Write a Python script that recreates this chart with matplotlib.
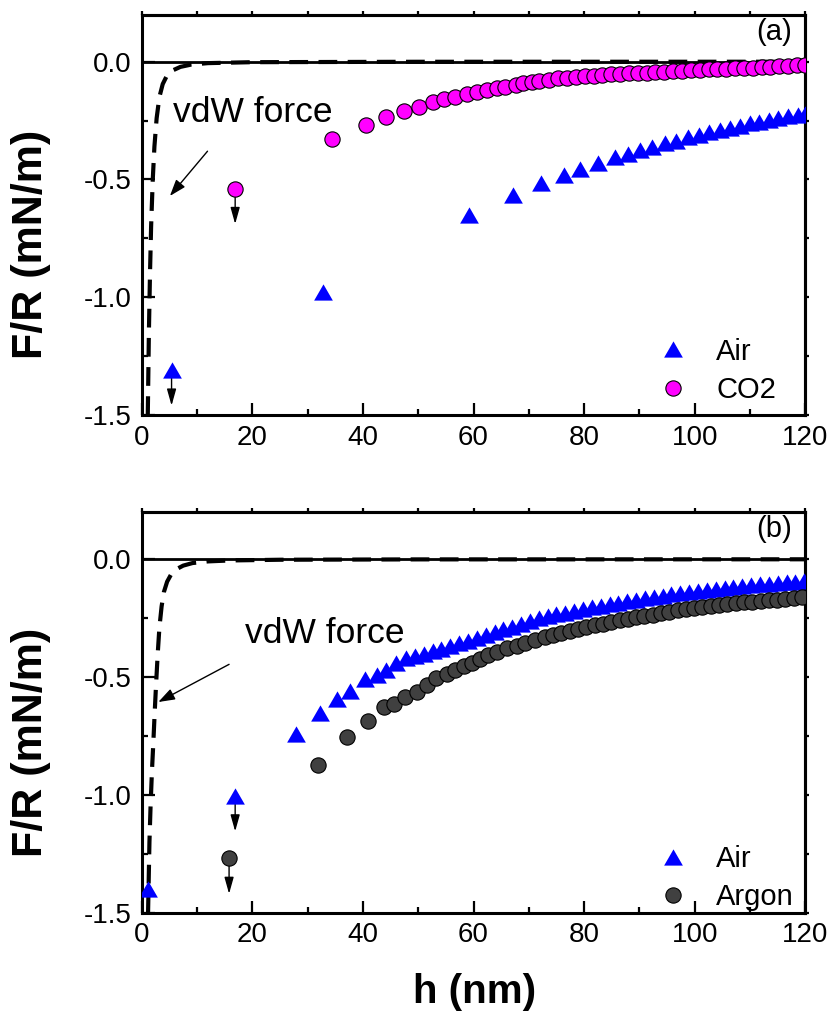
import matplotlib
matplotlib.use("Agg")
import matplotlib.pyplot as plt
from matplotlib.ticker import MultipleLocator, FormatStrFormatter

# ---------------- data ----------------
# panel (a): air vs CO2
air_a_h = [5.4, 32.7, 59.2, 67.1, 72.2, 76.3, 79.3, 82.5, 85.6, 87.9, 90.1, 92.3,
           94.6, 96.7, 98.8, 100.7, 102.6, 104.6, 106.4, 108.2, 110.0, 111.7,
           113.4, 115.1, 116.9, 118.6, 120.0]
air_a_f = [-1.31, -0.977, -0.651, -0.568, -0.515, -0.480, -0.456, -0.431, -0.406,
           -0.391, -0.375, -0.361, -0.346, -0.335, -0.321, -0.311, -0.300, -0.290,
           -0.280, -0.271, -0.262, -0.255, -0.247, -0.240, -0.231, -0.226, -0.220]

co2_h = [16.9, 34.5, 40.5, 44.2, 47.4, 50.2, 52.7, 54.7, 56.7, 58.9, 60.7, 62.4,
         64.3, 65.7, 67.7, 69.0, 70.5, 71.9, 73.7, 75.3, 76.9, 78.5, 80.1, 81.7,
         83.3, 84.9, 86.5, 88.1, 89.7, 91.3, 92.9, 94.5, 96.1, 97.7, 99.3, 100.9,
         102.5, 104.1, 105.7, 107.3, 108.9, 110.5, 112.1, 113.7, 115.3, 116.9,
         118.5, 120.0]
co2_f = [-0.539, -0.329, -0.267, -0.236, -0.209, -0.191, -0.171, -0.160, -0.148,
         -0.136, -0.127, -0.120, -0.112, -0.106, -0.098, -0.092, -0.088, -0.083,
         -0.076, -0.071, -0.068, -0.065, -0.062, -0.059, -0.057, -0.054, -0.052,
         -0.050, -0.048, -0.046, -0.044, -0.042, -0.040, -0.038, -0.036, -0.035,
         -0.033, -0.031, -0.030, -0.028, -0.026, -0.025, -0.023, -0.022, -0.020,
         -0.018, -0.016, -0.014]

vdw_a_h = [1.1, 1.3, 1.5, 1.7, 2.0, 2.3, 2.7, 3.2, 3.8, 4.5, 5.5, 7.0, 9.0, 12.0,
           20.0, 50.0, 120.0]
vdw_a_f = [-1.50, -1.15, -0.90, -0.70, -0.50, -0.36, -0.24, -0.15, -0.095, -0.062,
           -0.038, -0.022, -0.012, -0.006, -0.002, -0.0003, -0.0001]

# panel (b): air vs argon
air_b_h = [1.2, 16.9, 27.9, 32.2, 35.4, 37.7, 40.4, 42.5, 44.2, 46.0, 47.8, 49.4,
           51.0, 52.6, 54.2, 55.8, 57.4, 59.0, 60.6, 62.2, 63.8, 65.4, 67.0, 68.6,
           70.2, 71.8, 73.4, 75.0, 76.6, 78.2, 79.8, 81.4, 83.0, 84.6, 86.2, 87.8,
           89.4, 91.0, 92.6, 94.2, 95.8, 97.4, 99.0, 100.6, 102.2, 103.8, 105.4,
           107.0, 108.6, 110.2, 111.8, 113.4, 115.0, 116.6, 118.2, 119.8]
air_b_f = [-1.40, -1.005, -0.742, -0.654, -0.594, -0.558, -0.508, -0.490, -0.468,
           -0.442, -0.421, -0.410, -0.400, -0.390, -0.379, -0.368, -0.357, -0.346,
           -0.334, -0.320, -0.309, -0.298, -0.286, -0.274, -0.263, -0.251, -0.242,
           -0.234, -0.226, -0.218, -0.211, -0.204, -0.197, -0.190, -0.184, -0.178,
           -0.172, -0.166, -0.160, -0.154, -0.148, -0.143, -0.138, -0.133, -0.129,
           -0.125, -0.121, -0.117, -0.113, -0.110, -0.107, -0.104, -0.101, -0.098,
           -0.095, -0.092]

argon_h = [15.8, 31.8, 37.2, 41.0, 43.8, 45.6, 47.6, 49.7, 51.5, 53.3, 55.2, 56.7,
           58.2, 59.7, 61.2, 62.7, 64.2, 66.0, 67.8, 69.3, 71.1, 72.9, 74.4, 75.9,
           77.4, 78.9, 80.4, 81.9, 83.4, 84.9, 86.4, 87.9, 89.4, 90.9, 92.4, 93.9,
           95.4, 96.9, 98.4, 99.9, 101.4, 102.9, 104.4, 105.9, 107.4, 108.9, 110.4,
           111.9, 113.4, 114.9, 116.4, 117.9, 119.4]
argon_f = [-1.27, -0.873, -0.756, -0.686, -0.626, -0.614, -0.586, -0.562, -0.534,
           -0.505, -0.487, -0.470, -0.453, -0.439, -0.422, -0.406, -0.392, -0.378,
           -0.368, -0.354, -0.343, -0.331, -0.323, -0.314, -0.305, -0.297, -0.289,
           -0.281, -0.273, -0.265, -0.259, -0.253, -0.247, -0.241, -0.235, -0.229,
           -0.223, -0.217, -0.212, -0.208, -0.203, -0.199, -0.195, -0.191, -0.187,
           -0.183, -0.180, -0.177, -0.174, -0.171, -0.168, -0.165, -0.162]

vdw_b_h = [1.15, 1.25, 1.4, 1.6, 1.85, 2.1, 2.35, 2.6, 2.9, 3.2, 3.6, 4.0, 4.6,
           5.3, 6.2, 7.5, 9.2, 12.0, 16.0, 25.0, 50.0, 120.0]
vdw_b_f = [-1.50, -1.38, -1.20, -1.05, -0.90, -0.78, -0.65, -0.53, -0.40, -0.29,
           -0.20, -0.14, -0.095, -0.065, -0.043, -0.027, -0.016, -0.009, -0.005,
           -0.002, -0.0005, -0.0001]

x_ticks = [0, 20, 40, 60, 80, 100, 120]
y_ticks = [-1.5, -1.0, -0.5, 0.0]

# ---------------- style ----------------
plt.rcParams['font.family'] = ['Liberation Sans', 'DejaVu Sans']
plt.rcParams['axes.unicode_minus'] = False

TICK_SIZE = 20
BLUE = '#0000ff'
MAGENTA = '#ff00ff'
GREY = '#404040'
ARROW_LEN = 0.15
TRI = [(0.0, 0.866), (-1.0, -0.866), (1.0, -0.866), (0.0, 0.866)]

fig = plt.figure(figsize=(8.36, 10.28), dpi=100)
ax_a = fig.add_axes([0.1695, 0.5963, 0.7938, 0.3895])
ax_b = fig.add_axes([0.1695, 0.1122, 0.7938, 0.3896])


def style_axes(ax):
    ax.set_xlim(0, 120)
    ax.set_ylim(-1.5, 0.2)
    ax.set_xticks(x_ticks)
    ax.set_yticks(y_ticks)
    ax.xaxis.set_minor_locator(MultipleLocator(10))
    ax.yaxis.set_minor_locator(MultipleLocator(0.25))
    ax.yaxis.set_major_formatter(FormatStrFormatter('%.1f'))
    for s in ax.spines.values():
        s.set_linewidth(2.2)
    ax.tick_params(which='major', direction='in', length=9, width=1.6, pad=7,
                   labelsize=TICK_SIZE)
    ax.tick_params(which='minor', direction='in', length=4, width=1.6)
    sx = ax.secondary_xaxis('top')
    sx.set_xticks(x_ticks)
    sx.xaxis.set_minor_locator(MultipleLocator(10))
    sx.tick_params(which='both', direction='out', length=3, width=1.6, labeltop=False)
    sx.spines['top'].set_linewidth(2.2)
    sy = ax.secondary_yaxis('right')
    sy.set_yticks(y_ticks)
    sy.yaxis.set_minor_locator(MultipleLocator(0.25))
    sy.tick_params(which='both', direction='out', length=3, width=1.6, labelright=False)
    sy.spines['right'].set_linewidth(2.2)
    ax.axhline(0, color='k', lw=2.0, zorder=1)
    ax.set_ylabel('F/R (mN/m)', fontsize=31, fontweight='bold')
    ax.yaxis.set_label_coords(-0.136, 0.425)


def down_arrow(ax, h, f):
    ax.annotate('', xy=(h, f - ARROW_LEN), xytext=(h, f),
                arrowprops=dict(arrowstyle='-|>,head_length=1.0,head_width=0.28',
                                color='k', lw=1.0, shrinkA=0, shrinkB=0,
                                mutation_scale=10), zorder=2)


def vdw_label(ax, xy_tip, xy_text, text_xy):
    ax.annotate('', xy=xy_tip, xytext=xy_text,
                arrowprops=dict(arrowstyle='-|>,head_length=1.0,head_width=0.35',
                                color='k', lw=1.0, shrinkA=0, shrinkB=0,
                                mutation_scale=10))
    ax.text(text_xy[0], text_xy[1], 'vdW force', fontsize=25.5, ha='left',
            va='baseline')


# ---------------- panel (a) ----------------
style_axes(ax_a)
ax_a.plot(vdw_a_h, vdw_a_f, color='k', lw=3, dashes=(4.5, 2.5), zorder=2)
la1, = ax_a.plot(air_a_h, air_a_f, ls='none', marker=TRI, ms=13.5, mfc=BLUE,
                 mec=BLUE, mew=0, zorder=3, label='Air')
la2, = ax_a.plot(co2_h, co2_f, ls='none', marker='o', ms=11, mfc=MAGENTA,
                 mec='k', mew=0.8, zorder=3, label='CO2')
down_arrow(ax_a, air_a_h[0], air_a_f[0])
down_arrow(ax_a, co2_h[0], co2_f[0])
vdw_label(ax_a, (5.1, -0.57), (11.9, -0.38), (5.6, -0.255))
ax_a.text(0.980, 0.957, '(a)', transform=ax_a.transAxes, ha='right',
          va='center', fontsize=21)
ax_a.legend(handles=[la1, la2], loc='lower left', bbox_to_anchor=(0.778, 0.027),
            frameon=False, fontsize=21, handlelength=1.0, handletextpad=1.0,
            borderpad=0, borderaxespad=0, labelspacing=0.36)

# ---------------- panel (b) ----------------
style_axes(ax_b)
ax_b.plot(vdw_b_h, vdw_b_f, color='k', lw=3, dashes=(4.5, 2.5), zorder=2)
lb1, = ax_b.plot(air_b_h, air_b_f, ls='none', marker=TRI, ms=13.5, mfc=BLUE,
                 mec=BLUE, mew=0, zorder=3, label='Air')
lb2, = ax_b.plot(argon_h, argon_f, ls='none', marker='o', ms=11, mfc=GREY,
                 mec='k', mew=0.8, zorder=3, label='Argon')
down_arrow(ax_b, air_b_h[1], air_b_f[1])
down_arrow(ax_b, argon_h[0], argon_f[0])
vdw_label(ax_b, (3.0, -0.606), (15.8, -0.446), (18.7, -0.357))
ax_b.text(0.980, 0.957, '(b)', transform=ax_b.transAxes, ha='right',
          va='center', fontsize=21)
ax_b.legend(handles=[lb1, lb2], loc='lower left', bbox_to_anchor=(0.778, 0.003),
            frameon=False, fontsize=21, handlelength=1.0, handletextpad=1.0,
            borderpad=0, borderaxespad=0, labelspacing=0.36)
ax_b.set_xlabel('h (nm)', fontsize=29, fontweight='bold')
ax_b.xaxis.set_label_coords(0.502, -0.15)

fig.savefig('out.png', dpi=100)
